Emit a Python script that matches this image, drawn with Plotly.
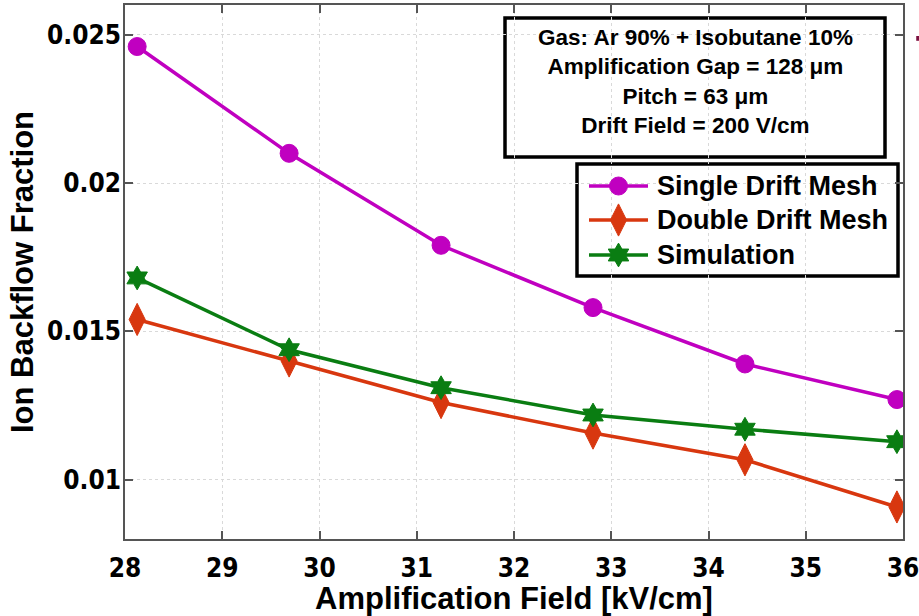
import plotly.graph_objects as go

# Amplification field values (kV/cm) for each mesh voltage setting
field = [28.125, 29.6875, 31.25, 32.8125, 34.375, 35.9375]

single_mesh = [0.0246, 0.0210, 0.0179, 0.0158, 0.0139, 0.0127]
double_mesh = [0.0154, 0.0140, 0.0126, 0.01157, 0.01067, 0.00908]
simulation = [0.0168, 0.01438, 0.0131, 0.01218, 0.0117, 0.01128]

series_names = ["Single Drift Mesh", "Double Drift Mesh", "Simulation"]

x_ticks = [28, 29, 30, 31, 32, 33, 34, 35, 36]
y_ticks = [0.01, 0.015, 0.02, 0.025]
y_tick_text = ["0.01", "0.015", "0.02", "0.025"]

info_lines = [
    "Gas: Ar 90% + Isobutane 10%",
    "Amplification Gap = 128 \u03bcm",
    "Pitch = 63 \u03bcm",
    "Drift Field = 200 V/cm",
]

MAGENTA = "#C000C0"
RED = "#D8370F"
GREEN = "#0A7D12"
colors = [MAGENTA, RED, GREEN]

BOLD = "Liberation Sans, Arial, sans-serif"
NARROW = "DejaVu Sans Condensed, Liberation Sans, sans-serif"

marker_styles = [
    dict(symbol="circle", size=18),
    dict(symbol="diamond-tall", size=23),
    dict(symbol="hexagram", size=18),
]

PLOT_L, PLOT_R, PLOT_T, PLOT_B = 125, 903, 5, 539


def fx(px):
    """Horizontal pixel -> fraction of the plot domain."""
    return (px - PLOT_L) / (PLOT_R - PLOT_L)


def fy(py):
    """Vertical pixel (top-down) -> fraction of the plot domain."""
    return (PLOT_B - py) / (PLOT_B - PLOT_T)


fig = go.Figure()

for name, values, color, mk in zip(series_names, [single_mesh, double_mesh, simulation],
                                   colors, marker_styles):
    fig.add_trace(go.Scatter(
        x=field, y=values, name=name, mode="lines+markers", showlegend=False,
        line=dict(color=color, width=3.5),
        marker=dict(color=color, line=dict(color=color, width=1), **mk),
    ))

axis_common = dict(
    showline=True, linecolor="#555555", linewidth=1.5, mirror="ticks",
    ticks="inside", ticklen=8, tickwidth=1.5, tickcolor="#555555",
    showgrid=True, gridcolor="#d9d9d9", griddash="dot", gridwidth=1,
    zeroline=False, ticklabeloverflow="allow", automargin=False,
    tickfont=dict(family=NARROW, size=26, color="black", weight="bold"),
)

fig.update_layout(
    width=919, height=616,
    margin=dict(l=PLOT_L, r=919 - PLOT_R, t=PLOT_T, b=616 - PLOT_B, autoexpand=False),
    paper_bgcolor="white", plot_bgcolor="white",
    showlegend=False,
    xaxis=dict(
        range=[28, 36], tickvals=x_ticks, ticklabelstandoff=5,
        title=dict(text="Amplification Field [kV/cm]", standoff=4,
                   font=dict(family=BOLD, size=31, color="black", weight="bold")),
        **axis_common,
    ),
    yaxis=dict(
        range=[0.008, 0.026], tickvals=y_ticks, ticktext=y_tick_text,
        ticklabelstandoff=-3,
        title=dict(text="Ion Backflow Fraction", standoff=4,
                   font=dict(family=BOLD, size=31, color="black", weight="bold")),
        **axis_common,
    ),
    # pixel-unit overlay used to lay out the legend samples
    xaxis2=dict(overlaying="x", range=[PLOT_L, PLOT_R], visible=False, fixedrange=True),
    yaxis2=dict(overlaying="y", range=[PLOT_B, PLOT_T], visible=False, fixedrange=True),
)

# Experimental conditions box (grid shows through, as in the original figure)
fig.add_shape(type="rect", xref="x domain", yref="y domain",
              x0=fx(505), x1=fx(885), y0=fy(157), y1=fy(18),
              line=dict(color="black", width=3.5), fillcolor="white", layer="below")
fig.add_annotation(
    xref="x domain", yref="y domain", x=fx(695), y=fy(81),
    xanchor="center", yanchor="middle",
    text="<br>".join(info_lines), showarrow=False, align="center",
    font=dict(family=BOLD, size=22.5, color="black", weight="bold"),
)

# Legend
legend_rows = [186, 220, 255]
fig.add_shape(type="rect", xref="x domain", yref="y domain",
              x0=fx(577), x1=fx(898), y0=fy(276), y1=fy(164),
              line=dict(color="black", width=3.5), fillcolor="white", layer="below")
for name, color, mk, ry in zip(series_names, colors, marker_styles, legend_rows):
    fig.add_trace(go.Scatter(
        x=[589, 648], y=[ry, ry], xaxis="x2", yaxis="y2", mode="lines",
        showlegend=False, hoverinfo="skip",
        line=dict(color=color, width=3.5),
    ))
    fig.add_trace(go.Scatter(
        x=[618.5], y=[ry], xaxis="x2", yaxis="y2", mode="markers", showlegend=False,
        hoverinfo="skip", cliponaxis=False,
        marker=dict(color=color, line=dict(color=color, width=1), **mk),
    ))
    fig.add_annotation(
        xref="x domain", yref="y domain", x=fx(655), y=fy(ry),
        xanchor="left", yanchor="middle",
        text=name, showarrow=False,
        font=dict(family=BOLD, size=27, color="black", weight="bold"),
    )

# Fragment of the neighbouring panel at the right edge
fig.add_shape(type="rect", xref="paper", yref="paper",
              x0=1.017, x1=1.023, y0=0.933, y1=0.942,
              line=dict(width=0), fillcolor="#7a1040")

fig.write_html("out.html")
